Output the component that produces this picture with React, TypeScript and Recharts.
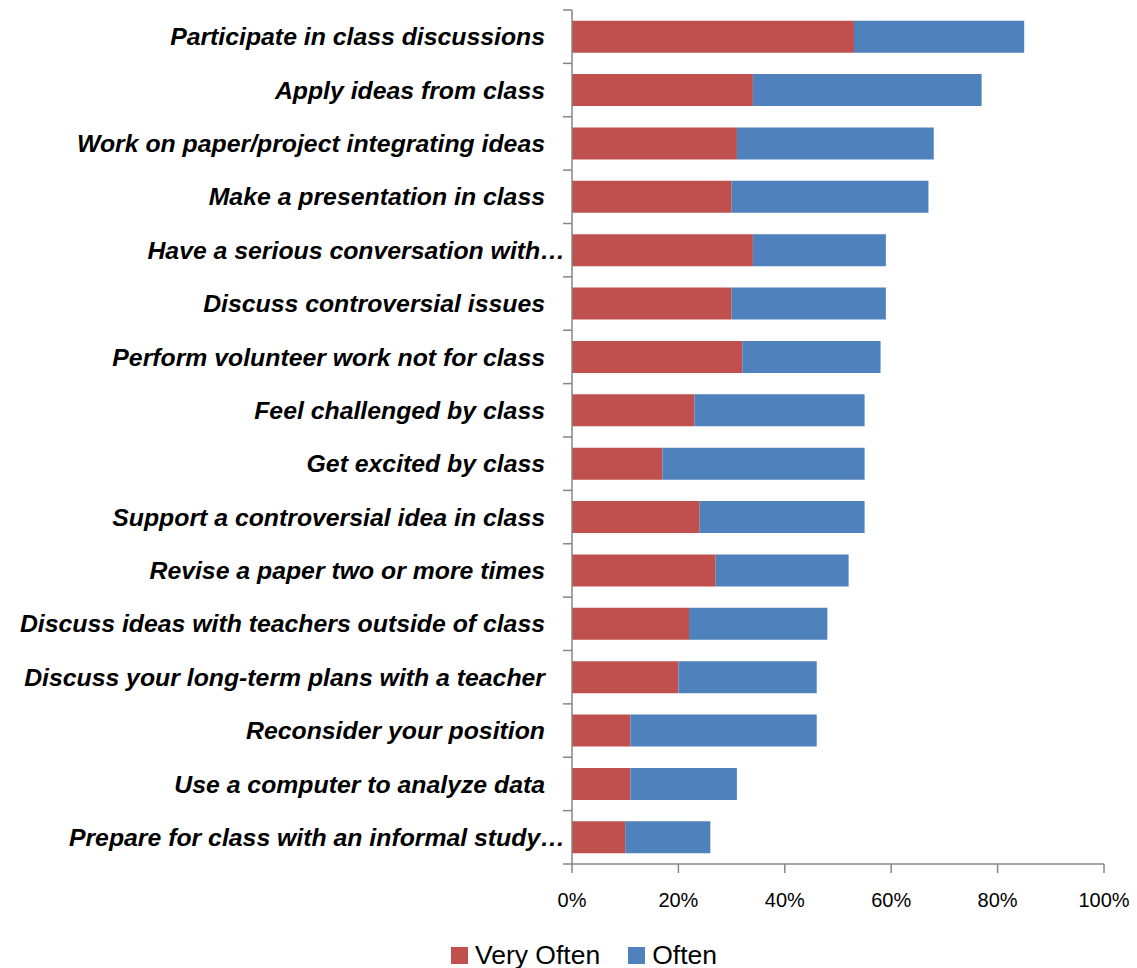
import React from 'react';
import { BarChart, Bar, XAxis, YAxis, Legend } from 'recharts';

const categories = [
  'Participate in class discussions',
  'Apply ideas from class',
  'Work on paper/project integrating ideas',
  'Make a presentation in class',
  'Have a serious conversation with…',
  'Discuss controversial issues',
  'Perform volunteer work not for class',
  'Feel challenged by class',
  'Get excited by class',
  'Support a controversial idea in class',
  'Revise a paper two or more times',
  'Discuss ideas with teachers outside of class',
  'Discuss your long-term plans with a teacher',
  'Reconsider your position',
  'Use a computer to analyze data',
  'Prepare for class with an informal study…',
];
const veryOften = [53, 34, 31, 30, 34, 30, 32, 23, 17, 24, 27, 22, 20, 11, 11, 10];
const often = [32, 43, 37, 37, 25, 29, 26, 32, 38, 31, 25, 26, 26, 35, 20, 16];
const xTicks = [0, 20, 40, 60, 80, 100];
const seriesNames = ['Very Often', 'Often'];

const data = categories.map((c, i) => ({ name: c, veryOften: veryOften[i], often: often[i] }));

const RED = '#C0504D';
const BLUE = '#4F81BD';
const AXIS = '#868686';
const FONT = '"Liberation Sans", Arial, sans-serif';
const seriesColors = [RED, BLUE];

const YTick = (props: any) => {
  const { x, y, payload, index, visibleTicksCount } = props;
  const half = payload && payload.offset ? payload.offset : 26.7;
  const label: string = payload.value;
  const truncated = label.endsWith('…');
  return (
    <g>
      <line x1={x - 9} x2={x} y1={y - half} y2={y - half} stroke={AXIS} strokeWidth={1.5} />
      {index === visibleTicksCount - 1 && (
        <line x1={x - 9} x2={x} y1={y + half} y2={y + half} stroke={AXIS} strokeWidth={1.5} />
      )}
      <text
        x={truncated ? x - 7 : x - 27}
        y={y}
        dy="0.35em"
        textAnchor="end"
        fontFamily={FONT}
        fontWeight="bold"
        fontStyle="italic"
        fontSize={24.8}
        fill="#000"
      >
        {label}
      </text>
    </g>
  );
};

const LegendContent = () => (
  <div
    style={{
      display: 'flex',
      justifyContent: 'center',
      alignItems: 'center',
      height: 26,
      fontFamily: FONT,
      fontSize: 26.5,
      color: '#000',
      paddingLeft: 64,
    }}
  >
    {seriesNames.map((n, i) => (
      <div key={n} style={{ display: 'flex', alignItems: 'center', marginRight: i === 0 ? 28 : 0 }}>
        <div style={{ width: 17, height: 17, background: seriesColors[i], marginRight: 7 }} />
        <span>{n}</span>
      </div>
    ))}
  </div>
);

export default function App() {
  return (
    <div style={{ position: 'absolute', left: 0, top: 0, background: '#fff' }}>
      <BarChart
        width={1137}
        height={968}
        data={data}
        layout="vertical"
        margin={{ top: 10, right: 33, left: 0, bottom: 0 }}
        barCategoryGap="20%"
      >
        <XAxis
          type="number"
          domain={[0, 100]}
          ticks={xTicks}
          tickFormatter={(v: number) => `${v}%`}
          stroke={AXIS}
          tickSize={9}
          tickMargin={20}
          height={78}
          interval={0}
          tick={{ fill: '#000', fontSize: 20, fontFamily: FONT }}
          axisLine={{ stroke: AXIS, strokeWidth: 1.5 }}
          tickLine={{ stroke: AXIS, strokeWidth: 1.5 }}
        />
        <YAxis
          type="category"
          dataKey="name"
          width={572}
          interval={0}
          tickSize={0}
          tickMargin={0}
          tickLine={false}
          axisLine={{ stroke: AXIS, strokeWidth: 1.5 }}
          tick={<YTick />}
        />
        <Legend verticalAlign="bottom" height={26} content={<LegendContent />} />
        <Bar dataKey="veryOften" name="Very Often" stackId="a" fill={RED} isAnimationActive={false} />
        <Bar dataKey="often" name="Often" stackId="a" fill={BLUE} isAnimationActive={false} />
      </BarChart>
    </div>
  );
}
